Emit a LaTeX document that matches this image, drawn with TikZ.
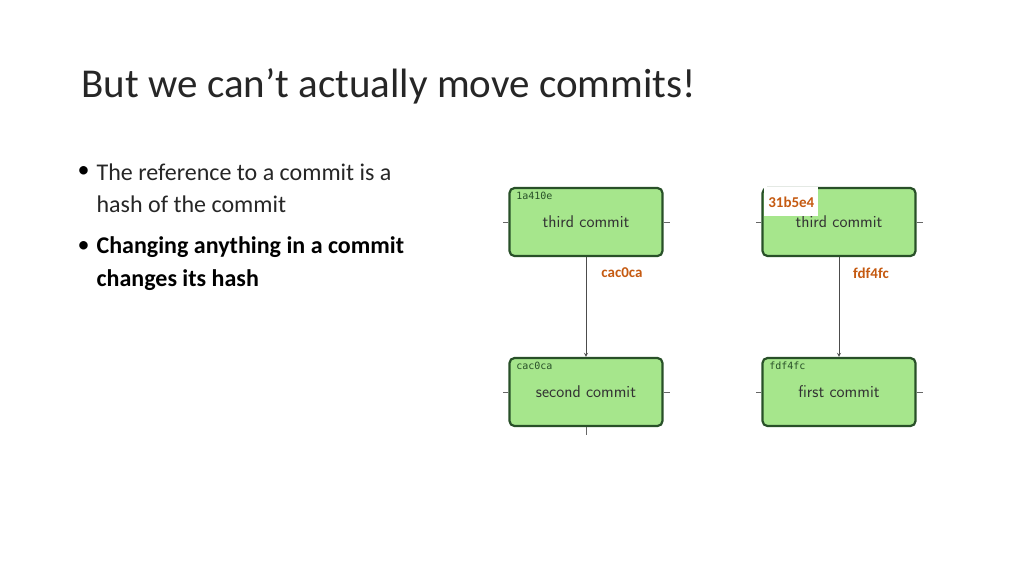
\documentclass[tikz,border=0pt]{standalone}
\usepackage{fontspec}
\setmainfont{Carlito}
\setmonofont{DejaVu Sans Mono}
\usetikzlibrary{arrows}
\definecolor{boxgreen}{RGB}{166,230,140}
\definecolor{boxline}{RGB}{40,80,40}
\definecolor{hashorange}{RGB}{197,90,17}
\begin{document}
\begin{tikzpicture}[x=1pt,y=-1pt,>=stealth',semithick]
  \tikzset{commit/.style={draw=boxline,line width=2.2pt,fill=boxgreen,rounded corners=5pt,
             minimum width=153pt,minimum height=68pt,inner sep=0pt,
             font=\fontsize{17}{19}\selectfont\sffamily,text=black!80},
           tag/.style={font=\fontsize{10}{12}\selectfont\ttfamily,text=boxline,anchor=north west,inner sep=0pt},
           hash/.style={font=\fontsize{15}{18}\selectfont\bfseries,text=hashorange},
           stub/.style={draw=black!60,thick},
           line/.style={draw=black!70,thick,->,>=stealth}}
  \useasboundingbox (0,0) rectangle (1024,576);

  \node[anchor=west,font=\fontsize{41}{48}\selectfont,text=black!85] (title) at (78,86) {But we can’t actually move commits!};

  \node[anchor=west,font=\fontsize{24}{28}\selectfont] (b1) at (74,172) {•};
  \node[anchor=west,font=\fontsize{24}{28}\selectfont,text=black!85] (t1) at (93,172) {The reference to a commit is a};
  \node[anchor=west,font=\fontsize{24}{28}\selectfont,text=black!85] (t2) at (93,204) {hash of the commit};
  \node[anchor=west,font=\fontsize{24}{28}\selectfont] (b2) at (74,247) {•};
  \node[anchor=west,font=\fontsize{24}{28}\selectfont\bfseries] (t3) at (93,247) {Changing anything in a commit};
  \node[anchor=west,font=\fontsize{24}{28}\selectfont\bfseries] (t4) at (93,280) {changes its hash};

  % left chain
  \node[commit] (L3) at (586,222) {third commit};
  \node[commit] (L2) at (586,392) {second commit};
  \node[tag] (L3h) at (516,192) {1a410e};
  \node[tag] (L2h) at (516,362) {cac0ca};
  % right chain
  \node[commit] (R3) at (839,222) {third commit};
  \node[commit] (R1) at (839,392) {first commit};
  \node[tag] (R1h) at (769,362) {fdf4fc};
  \node[fill=white,inner sep=4pt,font=\fontsize{15}{18}\selectfont\bfseries,text=hashorange,anchor=north west,minimum height=29pt] (R3h) at (764,187) {31b5e4};

  \draw[line] (L3) -- (L2);
  \draw[line] (R3) -- (R1);
  \node[hash] (lbl1) at (622,273) {cac0ca};
  \node[hash] (lbl2) at (871,273) {fdf4fc};

  \foreach \n in {L3,L2,R3,R1}{
    \draw[stub] (\n.west) -- ++(-5,0);
    \draw[stub] (\n.east) -- ++(6,0);
  }
  \draw[stub] (L2.south) -- ++(0,8);
\end{tikzpicture}
\end{document}
